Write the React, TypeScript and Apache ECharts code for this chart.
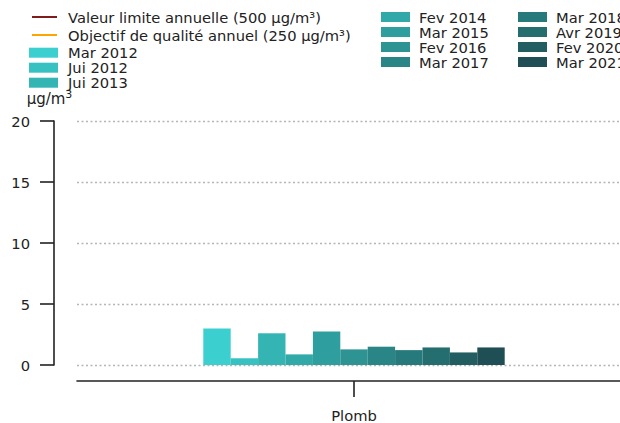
import React, { useEffect, useRef } from "react";
import * as echarts from "echarts";

const categories = ["Plomb"];
const periods = [
  "Mar 2012", "Jui 2012", "Jui 2013", "Fev 2014", "Mar 2015", "Fev 2016",
  "Mar 2017", "Mar 2018", "Avr 2019", "Fev 2020", "Mar 2021",
];
const values = [3.0, 0.55, 2.6, 0.87, 2.75, 1.28, 1.5, 1.22, 1.44, 1.03, 1.44];
const barColors = [
  "#3ccfcf", "#38c1c1", "#35b4b4", "#32a9a9", "#2f9e9e", "#2d9393",
  "#2a8686", "#277a7b", "#256e70", "#225e61", "#1f4e54",
];
const limitNames = ["Valeur limite annuelle (500 µg/m³)", "Objectif de qualité annuel (250 µg/m³)"];
const limitValues = [500, 250];
const limitColors = ["#7f1d1d", "#ffa500"];
const yTicks = [0, 5, 10, 15, 20];

const FONT = "DejaVu Sans";
const TXT = "#222";
const FS = 14.7;

export default function App() {
  const ref = useRef<HTMLDivElement>(null);
  useEffect(() => {
    if (!ref.current) return;
    const chart = echarts.init(ref.current, undefined, { renderer: "svg" });
    const barSeries = periods.map((p, i) => ({
      name: p,
      type: "bar",
      data: [values[i]],
      barWidth: 27.4,
      barGap: "0%",
      itemStyle: { color: barColors[i] },
    }));
    const lineSeries = limitNames.map((n, i) => ({
      name: n,
      type: "line",
      data: [] as number[],
      showSymbol: false,
      color: limitColors[i],
      lineStyle: { color: limitColors[i], width: 2 },
      markValue: limitValues[i],
    }));
    const legBase = {
      orient: "vertical",
      icon: "rect",
      itemGap: 0,
      padding: 0,
      selectedMode: false,
      itemWidth: 29,
      itemHeight: 10,
    };
    chart.setOption({
      animation: false,
      textStyle: { fontFamily: FONT },
      grid: { left: 77, top: 121, width: 554, height: 245 },
      legend: [
        {
          ...legBase,
          left: 32,
          top: 8,
          itemWidth: 25,
          itemHeight: 2,
          data: limitNames,
          textStyle: { fontFamily: FONT, fontSize: FS, color: TXT, lineHeight: 18, padding: [0, 0, 0, 6] },
        },
        {
          ...legBase,
          left: 29,
          top: 45.2,
          data: periods.slice(0, 3),
          textStyle: { fontFamily: FONT, fontSize: FS, color: TXT, lineHeight: 15, padding: [0, 0, 0, 5] },
        },
        {
          ...legBase,
          left: 381,
          top: 9.5,
          data: periods.slice(3, 7),
          textStyle: { fontFamily: FONT, fontSize: FS, color: TXT, lineHeight: 15, padding: [0, 0, 0, 4] },
        },
        {
          ...legBase,
          left: 518,
          top: 9.5,
          data: periods.slice(7),
          textStyle: { fontFamily: FONT, fontSize: FS, color: TXT, lineHeight: 15, padding: [0, 0, 0, 4] },
        },
      ],
      xAxis: {
        type: "category",
        data: categories,
        offset: 16,
        axisLine: { onZero: false, lineStyle: { color: TXT, width: 1.6 } },
        axisTick: { show: true, interval: 0, alignWithLabel: true, length: 16, lineStyle: { color: TXT, width: 1.6 } },
        axisLabel: { fontFamily: FONT, fontSize: FS, color: TXT, margin: 27 },
      },
      yAxis: {
        type: "value",
        min: 0,
        max: 20,
        interval: 5,
        offset: 23,
        name: "{a|µg/m}{b|3}",
        nameLocation: "end",
        nameGap: 12,
        nameTextStyle: {
          align: "center",
          padding: [0, 9, 0, 0],
          rich: {
            a: { fontFamily: FONT, fontSize: 15, color: TXT },
            b: { fontFamily: FONT, fontSize: 11, color: TXT, padding: [0, 0, 9, 0] },
          },
        },
        axisLine: { show: true, lineStyle: { color: TXT, width: 1.6 } },
        axisTick: { show: true, length: 14, lineStyle: { color: TXT, width: 1.6 } },
        axisLabel: {
          fontFamily: FONT,
          fontSize: FS,
          color: TXT,
          margin: 24,
          formatter: (v: number) => (yTicks.includes(v) ? String(v) : ""),
        },
        splitLine: { show: true, lineStyle: { color: "#b5b5b5", width: 1.3, type: [2, 2.5] } },
      },
      series: [...lineSeries, ...barSeries],
    });
    return () => chart.dispose();
  }, []);
  return (
    <div style={{ position: "absolute", left: 0, top: 0, width: 620, height: 423, overflow: "hidden" }}>
      <div ref={ref} style={{ width: 640, height: 423 }} />
    </div>
  );
}
